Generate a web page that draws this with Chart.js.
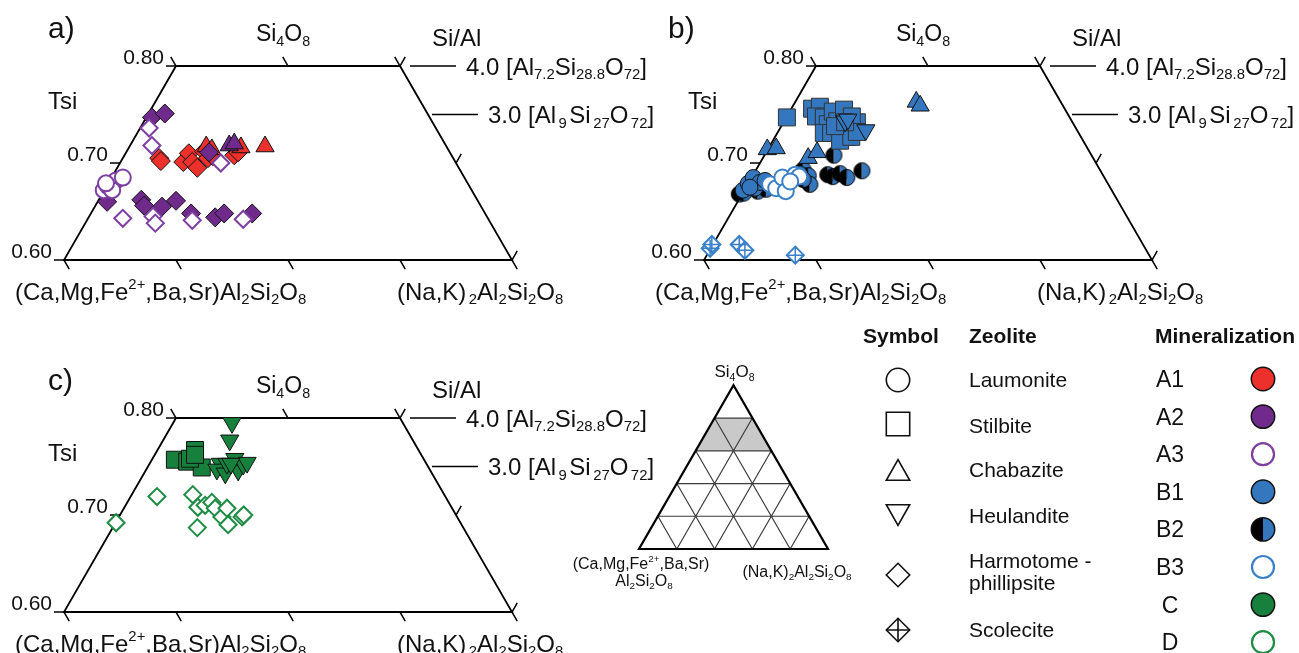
<!DOCTYPE html>
<html lang="en">
<head>
<meta charset="utf-8">
<title>Zeolite compositions – Tsi ternary sections</title>
<script src="https://cdn.jsdelivr.net/npm/chart.js@4.4.1/dist/chart.umd.min.js"></script>
<style>
html, body { margin: 0; padding: 0; background: #fff; }
#wrap { position: relative; width: 1299px; height: 653px; }
</style>
</head>
<body>
<div id="wrap"><canvas id="chart" width="1299" height="653"></canvas></div>
<script>
// Zeolite analyses in the Si4O8 – (Ca,Mg,Fe,Ba,Sr)Al2Si2O8 – (Na,K)2Al2Si2O8 ternary.
// Each point is [x, Tsi]: x = position along the ternary base in % (0 = Ca corner, 100 = Na,K corner),
// Tsi = Si/(Si+Al).

// ---- a) mineralization A ----
const aA1Harmotome = [[27.0,0.705],[27.3,0.702],[31.3,0.701],[32.3,0.710],[32.9,0.701],[33.8,0.695],
                      [35.0,0.712],[35.7,0.705],[36.6,0.707],[40.4,0.708],[41.1,0.711]];
const aA1Chabazite = [[35.4,0.717],[36.4,0.714],[41.6,0.716],[45.9,0.717]];
const aA2Harmotome = [[25.7,0.747],[28.0,0.751],[17.7,0.660],[23.8,0.662],[24.3,0.656],[27.5,0.655],
                      [30.0,0.661],[32.7,0.648],[37.0,0.644],[38.6,0.648],[43.6,0.648],[35.9,0.711]];
const aA2Chabazite = [[39.5,0.718],[40.4,0.720]];
const aA3Harmotome = [[25.2,0.736],[25.7,0.718],[20.5,0.643],[25.9,0.645],[26.3,0.638],[32.9,0.641],
                      [42.0,0.642],[38.0,0.700]];
const aA3Laumonite = [[17.1,0.672],[17.9,0.676],[18.6,0.679],[19.3,0.682],[20.5,0.685],[18.6,0.672],[17.5,0.679]];

// ---- b) mineralization B ----
const bB1Stilbite = [[24.8,0.747],[29.3,0.756],[30.7,0.758],[30.0,0.748],[31.4,0.747],[32.1,0.740],[31.4,0.731],
                     [33.0,0.753],[33.8,0.743],[34.5,0.733],[35.5,0.727],[36.4,0.737],[37.3,0.742],[35.0,0.755],
                     [36.4,0.748],[32.7,0.731],[34.3,0.723],[36.3,0.727],[37.3,0.732],[33.4,0.738],[35.2,0.742]];
const bB1Heulandite = [[35.2,0.743],[35.7,0.745],[38.9,0.734]];
const bB1Chabazite = [[47.9,0.763],[48.6,0.759],[21.3,0.714],[22.9,0.715],[28.6,0.705],[30.2,0.711]];
const bB2Laumonite = [[16.3,0.668],[17.1,0.669],[19.6,0.671],[21.1,0.673],[27.7,0.693],[28.6,0.687],[28.9,0.678],
                      [27.7,0.683],[32.1,0.688],[33.2,0.708],[33.0,0.686],[34.3,0.689],[35.5,0.685],[38.2,0.692],[27.0,0.689]];
const bB1Laumonite = [[17.0,0.672],[17.9,0.679],[18.8,0.685],[19.1,0.674],[20.0,0.680],[18.2,0.675],[20.9,0.682]];
const bB3Laumonite = [[21.8,0.678],[22.9,0.674],[24.0,0.685],[24.6,0.671],[26.3,0.688],[27.0,0.686],[25.4,0.681]];
const bB3Scolecite = [[11.1,0.612],[11.4,0.616],[16.3,0.616],[17.3,0.610],[26.3,0.605]];

// ---- c) mineralization C and D ----
const cCStilbite = [[29.8,0.757],[32.0,0.755],[33.4,0.767],[34.6,0.749],[32.5,0.758],[33.4,0.762]];
const cCHeulandite = [[40.0,0.795],[39.6,0.777],[37.9,0.753],[37.3,0.747],[40.5,0.758],[38.8,0.743],[41.1,0.746],
                      [42.0,0.752],[39.1,0.753],[42.7,0.754],[39.8,0.753]];
const cDHarmotome = [[19.3,0.692],[26.6,0.719],[33.0,0.721],[33.9,0.708],[35.2,0.710],[36.4,0.713],[37.0,0.707],
                     [38.2,0.698],[39.1,0.707],[39.3,0.690],[41.8,0.698],[42.1,0.700],[33.8,0.687]];

// ---- axes / annotations ----
const tsiRange = [0.6, 0.8];
const tsiTicks = [0.6, 0.7, 0.8];
const baseTicks = [10, 30, 50, 70, 90];     // ternary ticks every 20 % along the Tsi = 0.60 edge
const topTicks = [30, 50, 70];              // and along the Tsi = 0.80 edge
// '|' in a label is a small fixed gap
const siAlLines = [
  { ratio: 4.0, label: '4.0 [Al_{7.2}Si_{28.8}O_{72}]', gap: 10 },
  { ratio: 3.0, label: '3.0 [Al|_{9}|Si|_{27}O|_{72}]', gap: 4 }
];
const ternaryDivisions = 5;
const ternaryBand = [0.6, 0.8];             // shaded band (height fraction above the base)

const legendZeolites = ['Laumonite', 'Stilbite', 'Chabazite', 'Heulandite', ['Harmotome -', 'phillipsite'], 'Scolecite'];
const legendMinerals = ['A1', 'A2', 'A3', 'B1', 'B2', 'B3', 'C', 'D'];

const COL = { A1: '#ec312c', A2: '#702a8c', A3: '#7d3fa1', B1: '#3477be', B3: '#3a80c9', C: '#17803d', D: '#1f8c45' };
const FONT = '"Liberation Sans", Arial, Helvetica, sans-serif';

const panels = [
  { x: 'xa', y: 'ya', letter: 'a)', letterAt: [48, 38] },
  { x: 'xb', y: 'ya', letter: 'b)', letterAt: [668, 38] },
  { x: 'xa', y: 'yc', letter: 'c)', letterAt: [48, 390] }
];

// ---- marker helpers ----
function halfDisc(r, left, right) {
  const s = Math.ceil(2 * r + 3);
  const cv = document.createElement('canvas');
  cv.width = s; cv.height = s;
  const g = cv.getContext('2d'), c = s / 2;
  g.beginPath(); g.moveTo(c, c); g.arc(c, c, r, Math.PI / 2, Math.PI * 1.5); g.closePath(); g.fillStyle = left; g.fill();
  g.beginPath(); g.moveTo(c, c); g.arc(c, c, r, -Math.PI / 2, Math.PI / 2); g.closePath(); g.fillStyle = right; g.fill();
  g.beginPath(); g.arc(c, c, r, 0, Math.PI * 2); g.lineWidth = 1; g.strokeStyle = '#000'; g.stroke();
  return cv;
}

const filled = (color, style, radius, extra) => Object.assign({
  pointStyle: style, pointRadius: radius, pointBackgroundColor: color,
  pointBorderColor: '#111', pointBorderWidth: 1
}, extra || {});
const hollow = (color, style, radius, extra) => Object.assign({
  pointStyle: style, pointRadius: radius, pointBackgroundColor: '#fff',
  pointBorderColor: color, pointBorderWidth: 2
}, extra || {});

function series(points, panel, style) {
  return Object.assign({
    type: 'scatter',
    data: points.map(([x, y]) => ({ x, y })),
    xAxisID: panel.x, yAxisID: panel.y,
    pointHoverRadius: style.pointRadius
  }, style);
}

const [pa, pb, pc] = panels;
const R_DIAMOND = 9.5, R_HOLLOW_DIAMOND = 8.5, R_CIRCLE = 8, R_TRIANGLE = 10.5, R_SQUARE = 12;
const layers = [
  // a)
  series(aA1Harmotome, pa, filled(COL.A1, 'rectRot', R_DIAMOND)),
  series(aA1Chabazite, pa, filled(COL.A1, 'triangle', R_TRIANGLE)),
  series(aA2Harmotome, pa, filled(COL.A2, 'rectRot', R_DIAMOND)),
  series(aA2Chabazite, pa, filled(COL.A2, 'triangle', R_TRIANGLE)),
  series(aA3Laumonite, pa, hollow(COL.A3, 'circle', R_CIRCLE)),
  series(aA3Harmotome, pa, hollow(COL.A3, 'rectRot', R_HOLLOW_DIAMOND)),
  // b)
  series(bB3Scolecite, pb, hollow(COL.B3, 'rectRot', R_HOLLOW_DIAMOND)),
  series(bB3Scolecite, pb, hollow(COL.B3, 'cross', R_HOLLOW_DIAMOND, { pointBorderWidth: 1.5 })),
  series(bB2Laumonite, pb, { pointStyle: halfDisc(R_CIRCLE, '#000', COL.B1), pointRadius: R_CIRCLE }),
  series(bB1Laumonite, pb, filled(COL.B1, 'circle', R_CIRCLE)),
  series(bB3Laumonite, pb, hollow(COL.B3, 'circle', R_CIRCLE)),
  series(bB1Stilbite, pb, filled(COL.B1, 'rect', R_SQUARE, { pointBorderColor: '#333' })),
  series(bB1Heulandite, pb, filled(COL.B1, 'triangle', R_TRIANGLE, { pointRotation: 180 })),
  series(bB1Chabazite, pb, filled(COL.B1, 'triangle', R_TRIANGLE)),
  // c)
  series(cDHarmotome, pc, hollow(COL.D, 'rectRot', R_HOLLOW_DIAMOND)),
  series(cCStilbite, pc, filled(COL.C, 'rect', R_SQUARE)),
  series(cCHeulandite, pc, filled(COL.C, 'triangle', R_TRIANGLE, { pointRotation: 180 }))
];
layers.forEach((d, i) => { d.order = -i; });

// ---- rich text (sub/superscripts) ----
function parseRich(str) {
  const out = [], re = /_\{([^}]*)\}|\^\{([^}]*)\}|(\|)|([^_^|]+)/g;
  let m;
  while ((m = re.exec(str))) {
    if (m[1] !== undefined) out.push([m[1], -1]);
    else if (m[2] !== undefined) out.push([m[2], 1]);
    else if (m[3] !== undefined) out.push(2.5);
    else out.push([m[4], 0]);
  }
  return out;
}
function segFont(kind, size, weight) {
  const s = kind === 0 ? size : size * 0.62;
  return `${weight || 'normal'} ${s}px ${FONT}`;
}
function drawText(ctx, str, x, y, size, align, weight) {
  const parts = parseRich(str);
  let w = 0;
  for (const p of parts) {
    if (typeof p === 'number') { w += p; continue; }
    ctx.font = segFont(p[1], size, weight); w += ctx.measureText(p[0]).width;
  }
  let cx = align === 'center' ? x - w / 2 : align === 'right' ? x - w : x;
  ctx.textAlign = 'left';
  ctx.textBaseline = 'alphabetic';
  for (const p of parts) {
    if (typeof p === 'number') { cx += p; continue; }
    ctx.font = segFont(p[1], size, weight);
    const dy = p[1] === -1 ? size * 0.2 : p[1] === 1 ? -size * 0.42 : 0;
    ctx.fillText(p[0], cx, y + dy);
    cx += ctx.measureText(p[0]).width;
  }
}

// ---- trapezoid sections ----
const leftX = t => (t - 0.5) * 100;   // Ca-side edge of the ternary at a given Tsi
const rightX = t => (1.5 - t) * 100;  // Na,K-side edge
function px(chart, p, xv, t) {
  return [chart.scales[p.x].getPixelForValue(xv), chart.scales[p.y].getPixelForValue(t)];
}
const TICK = 10.5, TDX = TICK * 0.5, TDY = TICK * Math.sqrt(3) / 2;

function drawFrame(chart, ctx, p) {
  const [lo, hi] = tsiRange;
  const c = [px(chart, p, leftX(lo), lo), px(chart, p, rightX(lo), lo), px(chart, p, rightX(hi), hi), px(chart, p, leftX(hi), hi)];
  ctx.strokeStyle = '#000';
  ctx.lineWidth = 1.8;
  ctx.beginPath();
  c.forEach(([x, y], i) => i ? ctx.lineTo(x, y) : ctx.moveTo(x, y));
  ctx.closePath();
  ctx.stroke();
  ctx.lineWidth = 1.5;
  ctx.beginPath();
  for (const b of baseTicks) { const [x, y] = px(chart, p, b, lo); ctx.moveTo(x, y); ctx.lineTo(x + TDX, y + TDY); }
  for (const b of topTicks) { const [x, y] = px(chart, p, b, hi); ctx.moveTo(x, y); ctx.lineTo(x - TDX, y - TDY); }
  for (const t of tsiTicks) {
    let [x, y] = px(chart, p, leftX(t), t); ctx.moveTo(x, y); ctx.lineTo(x - 10, y);
    [x, y] = px(chart, p, rightX(t), t); ctx.moveTo(x, y); ctx.lineTo(x + TDX, y - TDY);
  }
  for (const s of siAlLines) {
    const t = s.ratio / (s.ratio + 1);
    const [x, y] = px(chart, p, rightX(t), t);
    ctx.moveTo(x + s.gap, y); ctx.lineTo(x + s.gap + 46, y);
  }
  ctx.stroke();
}

function drawFrameText(chart, ctx, p) {
  const [lo, hi] = tsiRange;
  const TL = px(chart, p, leftX(hi), hi), TR = px(chart, p, rightX(hi), hi);
  const BL = px(chart, p, leftX(lo), lo), BR = px(chart, p, rightX(lo), lo);
  const top = px(chart, p, 50, hi);
  ctx.fillStyle = '#111';
  drawText(ctx, p.letter, p.letterAt[0], p.letterAt[1], 30, 'left');
  drawText(ctx, 'Si_{4}O_{8}', top[0] - 5, TL[1] - 25, 23, 'center');
  drawText(ctx, 'Si/Al', TR[0] + 32, TL[1] - 20, 24, 'left');
  drawText(ctx, 'Tsi', TL[0] - 128, TL[1] + 43, 24, 'left');
  for (const t of tsiTicks) {
    const [x, y] = px(chart, p, leftX(t), t);
    drawText(ctx, t.toFixed(2), x - 12, y - 2, 21, 'right');
  }
  for (const s of siAlLines) {
    const t = s.ratio / (s.ratio + 1);
    const [x, y] = px(chart, p, rightX(t), t);
    drawText(ctx, s.label, x + s.gap + 56, y + 8.5, 24, 'left');
  }
  drawText(ctx, '(Ca,Mg,Fe^{2+},Ba,Sr)Al_{2}Si_{2}O_{8}', BL[0] - 49, BL[1] + 39.5, 24, 'left');
  drawText(ctx, '(Na,K)|_{2}Al_{2}Si_{2}O_{8}', BR[0] - 115, BR[1] + 39.5, 24, 'left');
}

// ---- reference ternary ----
const H = Math.sqrt(3) / 2;
function tp(chart, x, y) { return [chart.scales.xt.getPixelForValue(x), chart.scales.yt.getPixelForValue(y)]; }
function drawTernary(chart, ctx) {
  const [f0, f1] = ternaryBand;
  const band = [[f0 / 2, f0 * H], [1 - f0 / 2, f0 * H], [1 - f1 / 2, f1 * H], [f1 / 2, f1 * H]].map(([x, y]) => tp(chart, x, y));
  ctx.fillStyle = '#c9c9c9';
  ctx.beginPath();
  band.forEach(([x, y], i) => i ? ctx.lineTo(x, y) : ctx.moveTo(x, y));
  ctx.closePath(); ctx.fill();
  ctx.strokeStyle = '#3c3c3c';
  ctx.lineWidth = 1.2;
  ctx.beginPath();
  for (let i = 1; i < ternaryDivisions; i++) {
    const f = i / ternaryDivisions;
    const segs = [
      [[f / 2, f * H], [1 - f / 2, f * H]],
      [[f, 0], [f + (1 - f) / 2, (1 - f) * H]],
      [[f, 0], [f / 2, f * H]]
    ];
    for (const [a, b] of segs) {
      const A = tp(chart, a[0], a[1]), B = tp(chart, b[0], b[1]);
      ctx.moveTo(A[0], A[1]); ctx.lineTo(B[0], B[1]);
    }
  }
  ctx.stroke();
  ctx.strokeStyle = '#000';
  ctx.lineWidth = 2.2;
  ctx.lineJoin = 'miter';
  ctx.beginPath();
  [[0, 0], [1, 0], [0.5, H]].map(([x, y]) => tp(chart, x, y)).forEach(([x, y], i) => i ? ctx.lineTo(x, y) : ctx.moveTo(x, y));
  ctx.closePath(); ctx.stroke();
}
function drawTernaryText(chart, ctx) {
  const apex = tp(chart, 0.5, H), L = tp(chart, 0, 0), R = tp(chart, 1, 0);
  ctx.fillStyle = '#111';
  drawText(ctx, 'Si_{4}O_{8}', apex[0] + 1, apex[1] - 8, 17, 'center');
  drawText(ctx, '(Ca,Mg,Fe^{2+},Ba,Sr)', L[0] + 2, L[1] + 20, 16, 'center');
  drawText(ctx, 'Al_{2}Si_{2}O_{8}', L[0] + 5, L[1] + 37, 16, 'center');
  drawText(ctx, '(Na,K)_{2}Al_{2}Si_{2}O_{8}', R[0] - 31, R[1] + 28, 16, 'center');
}

// ---- key ----
function shape(ctx, kind, x, y, r, fill, stroke, lw) {
  ctx.beginPath();
  if (kind === 'circle') ctx.arc(x, y, r, 0, Math.PI * 2);
  else if (kind === 'square') ctx.rect(x - r, y - r, 2 * r, 2 * r);
  else if (kind === 'up') { const h = r * 0.88; ctx.moveTo(x, y - h); ctx.lineTo(x + r, y + h); ctx.lineTo(x - r, y + h); ctx.closePath(); }
  else if (kind === 'down') { const h = r * 0.88; ctx.moveTo(x - r, y - h); ctx.lineTo(x + r, y - h); ctx.lineTo(x, y + h); ctx.closePath(); }
  else { ctx.moveTo(x - r, y); ctx.lineTo(x, y - r); ctx.lineTo(x + r, y); ctx.lineTo(x, y + r); ctx.closePath(); }
  ctx.fillStyle = fill; ctx.fill();
  ctx.lineWidth = lw; ctx.strokeStyle = stroke; ctx.stroke();
  if (kind === 'diamondCross') {
    ctx.beginPath();
    ctx.moveTo(x - r, y); ctx.lineTo(x + r, y); ctx.moveTo(x, y - r); ctx.lineTo(x, y + r);
    ctx.stroke();
  }
}
function drawKey(ctx) {
  ctx.fillStyle = '#111';
  drawText(ctx, 'Symbol', 863, 343, 21, 'left', 'bold');
  drawText(ctx, 'Zeolite', 969, 343, 21, 'left', 'bold');
  drawText(ctx, 'Mineralization', 1155, 343, 21, 'left', 'bold');
  const symKinds = ['circle', 'square', 'up', 'down', 'diamond', 'diamondCross'];
  const symY = [380, 424, 470, 515, 575, 630];
  const nameY = [387, 433, 477, 523, [568, 590], 637];
  symKinds.forEach((k, i) => {
    shape(ctx, k, 898, symY[i], 11.7, '#fff', '#111', 1.6);
    ctx.fillStyle = '#111';
    const nm = legendZeolites[i];
    if (Array.isArray(nm)) nm.forEach((s, j) => drawText(ctx, s, 969, nameY[i][j], 21, 'left'));
    else drawText(ctx, nm, 969, nameY[i], 21, 'left');
  });
  const fills = { A1: COL.A1, A2: COL.A2, B1: COL.B1, C: COL.C };
  const rings = { A3: COL.A3, B3: COL.B3, D: COL.D };
  legendMinerals.forEach((m, i) => {
    const y = 379 + i * 37.6;
    ctx.fillStyle = '#111';
    drawText(ctx, m, 1170, y + 8, 23, 'center');
    if (fills[m]) shape(ctx, 'circle', 1263, y, 11.7, fills[m], '#111', 1.5);
    else if (rings[m]) shape(ctx, 'circle', 1263, y, 11, '#fff', rings[m], 2.2);
    else {
      ctx.beginPath(); ctx.moveTo(1263, y); ctx.arc(1263, y, 11.7, Math.PI / 2, Math.PI * 1.5); ctx.closePath();
      ctx.fillStyle = '#000'; ctx.fill();
      ctx.beginPath(); ctx.moveTo(1263, y); ctx.arc(1263, y, 11.7, -Math.PI / 2, Math.PI / 2); ctx.closePath();
      ctx.fillStyle = COL.B1; ctx.fill();
      ctx.beginPath(); ctx.arc(1263, y, 11.7, 0, Math.PI * 2); ctx.lineWidth = 1.5; ctx.strokeStyle = '#111'; ctx.stroke();
    }
  });
}

const decorations = {
  id: 'decorations',
  beforeDatasetsDraw(chart) {
    const ctx = chart.ctx;
    ctx.save();
    panels.forEach(p => drawFrame(chart, ctx, p));
    drawTernary(chart, ctx);
    ctx.restore();
  },
  afterDatasetsDraw(chart) {
    const ctx = chart.ctx;
    ctx.save();
    panels.forEach(p => drawFrameText(chart, ctx, p));
    drawTernaryText(chart, ctx);
    drawKey(ctx);
    ctx.restore();
  }
};

// Scale ranges chosen so each section occupies its own part of the canvas
// (5.6 px per % of ternary base, 970 px per unit Tsi; ternary key 189 px per side).
const W = 1299, Hc = 653;
const lin = (min, max) => ({ type: 'linear', display: false, bounds: 'data', min, max });
const scales = {
  xa: lin(-8 / 5.6, (W - 8) / 5.6),
  xb: lin(-648 / 5.6, (W - 648) / 5.6),
  ya: lin(0.6 - (Hc - 260) / 970, 0.6 + 260 / 970),
  yc: lin(0.6 - (Hc - 612) / 970, 0.6 + 612 / 970),
  xt: lin(-639 / 189, (W - 639) / 189),
  yt: lin(-(Hc - 549) / 189, 549 / 189)
};

new Chart(document.getElementById('chart'), {
  type: 'scatter',
  data: { datasets: layers },
  options: {
    responsive: false,
    devicePixelRatio: 1,
    animation: false,
    events: [],
    layout: { padding: 0, autoPadding: false },
    scales,
    plugins: { legend: { display: false }, tooltip: { enabled: false }, title: { display: false } }
  },
  plugins: [decorations]
});
</script>
</body>
</html>
